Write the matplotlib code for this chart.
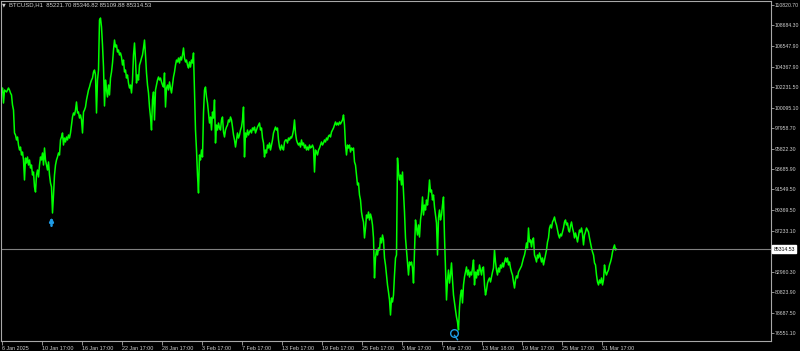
import matplotlib.pyplot as plt
import matplotlib.transforms as mtransforms
import numpy as np

plt.rcParams['font.family'] = ['Liberation Sans', 'DejaVu Sans']

# BTCUSD H1 closes, one value per bar
close = [
    101730, 102150, 100580, 101940, 101840, 101730, 101940, 102150, 101940, 101630,
    101420, 100370, 99850, 97450, 97240, 96720, 97030, 96190, 95670, 95980,
    95150, 95460, 94630, 92540, 94830, 94310, 94940, 94100, 94630, 93790,
    94100, 93060, 93370, 91810, 91280, 93060, 93580, 92850, 94100, 94940,
    94630, 95360, 94100, 95880, 94630, 94100, 93580, 94420, 93060, 92220,
    91810, 89090, 90970, 93060, 94100, 94630, 94940, 95360, 95150, 96720,
    97030, 97450, 96190, 96920, 96510, 97030, 96720, 97240, 96920, 97450,
    98280, 99120, 99540, 99330, 99850, 100690, 99540, 99640, 99010, 99330,
    98810, 97450, 99640, 99850, 100160, 100900, 101420, 101940, 102250, 102670,
    102980, 103190, 103820, 104030, 103510, 99540, 102980, 104030, 109250, 109460,
    108520, 106640, 104340, 100270, 102980, 101940, 101210, 102460, 101420, 103190,
    103820, 104760, 106120, 107160, 106430, 106640, 105910, 106120, 105600, 105810,
    105390, 104550, 105070, 103820, 104030, 103190, 103510, 102670, 102150, 102460,
    101630, 102980, 105600, 106850, 105070, 102670, 103510, 102980, 104550, 104870,
    105280, 105600, 106330, 107160, 105600, 103720, 102460, 101630, 100160, 99120,
    97760, 100900, 101730, 98810, 101940, 102460, 102980, 103300, 102980, 103190,
    102780, 102460, 102250, 103720, 100160, 102150, 102460, 101940, 102780, 102150,
    101630, 102460, 103300, 103820, 104550, 105070, 104870, 105280, 104760, 105390,
    105070, 105600, 106330, 105280, 104870, 105070, 104550, 104240, 104870, 104340,
    105070, 104760, 105810, 101940, 97760, 95670, 93060, 91180, 95150, 94630,
    95670, 94940, 99540, 101940, 102250, 101210, 100580, 99540, 98490, 99120,
    97760, 99640, 99010, 100900, 96400, 98280, 97760, 98490, 97970, 97760,
    98810, 99120, 97550, 97030, 97760, 98070, 98280, 98810, 98600, 99120,
    98810, 98070, 97240, 96720, 95980, 96720, 97450, 96920, 97240, 97760,
    98070, 98810, 100160, 94940, 97450, 97030, 97760, 97240, 97550, 97760,
    97450, 97970, 97760, 98070, 97450, 97760, 98070, 98280, 98490, 97760,
    97970, 96920, 96400, 94940, 95670, 95360, 96190, 95880, 96400, 95670,
    96190, 96720, 97450, 97760, 98070, 97760, 97970, 96720, 95980, 95670,
    96190, 95880, 95670, 96510, 96720, 96720, 96400, 96920, 96720, 97030,
    96920, 97240, 97760, 98810, 97450, 96720, 96400, 96190, 96400, 95980,
    96720, 96190, 96400, 95880, 96190, 95670, 95980, 95670, 96190, 95880,
    95980, 96190, 95880, 93370, 95670, 95460, 95150, 95670, 95880, 96190,
    96510, 96190, 96400, 96720, 96510, 96920, 96720, 97130, 97240, 97030,
    97550, 97760, 97970, 98280, 98600, 98280, 98490, 98280, 98600, 98390,
    98600, 98810, 99330, 98280, 96190, 95150, 96190, 95880, 96190, 95460,
    95880, 95670, 95880, 94420, 94100, 93060, 92020, 92220, 90970, 90450,
    89190, 88570, 88150, 86480, 87520, 88880, 88570, 89190, 88360, 88980,
    88570, 87840, 86480, 82300, 84390, 85220, 84700, 85430, 85220, 86480,
    85960, 86790, 86270, 84390, 83660, 82610, 81570, 80830, 80000, 78430,
    80210, 79790, 80520, 82610, 84390, 84700, 94830, 93370, 92540, 93060,
    92020, 93370, 91180, 89190, 86480, 85220, 83970, 82610, 83970, 83660,
    83970, 83340, 81770, 85220, 88360, 87520, 86790, 87840, 86580, 88360,
    89190, 90760, 88880, 89920, 89400, 90450, 89920, 90970, 92540, 91280,
    91490, 90450, 90970, 89720, 88880, 88040, 84700, 88570, 89400, 88360,
    88880, 89920, 90760, 86580, 83130, 80000, 82090, 83130, 81770, 82610,
    83870, 82090, 80520, 79690, 78950, 78220, 77700, 76870, 79270, 80520,
    81040, 79690, 81570, 82400, 82920, 83450, 82610, 83130, 82400, 82920,
    82610, 83340, 84180, 81570, 82920, 82300, 83130, 82610, 83660, 83130,
    82610, 83340, 83450, 81570, 80520, 81040, 81770, 82090, 82300, 81880,
    82400, 82920, 83340, 85220, 83970, 83130, 82610, 83340, 82920, 83660,
    83340, 83870, 83450, 83970, 84390, 83970, 84390, 83660, 83970, 83340,
    82920, 82610, 81880, 81250, 82090, 82510, 82300, 82920, 83130, 83340,
    83550, 83970, 84390, 84700, 85220, 85960, 85430, 87520, 86060, 86270,
    85540, 86270, 86480, 84700, 84390, 83970, 84700, 84390, 84910, 84490,
    83970, 84390, 83660, 84180, 84700, 85220, 86060, 86480, 87520, 87840,
    87520, 88150, 88360, 88670, 88150, 87840, 87310, 86790, 86480, 86890,
    86690, 87100, 87520, 88150, 88360, 87840, 88040, 87310, 87100, 87730,
    88150, 87520, 87100, 86480, 87000, 86580, 86060, 86690, 87310, 87100,
    87520, 86890, 85750, 86790, 87100, 87520, 87310, 87100, 86480, 85960,
    85430, 85010, 84700, 83870, 83660, 82610, 81880, 81570, 82090, 81770,
    82300, 81570, 82090, 83660, 82920, 82610, 82920, 83130, 83660, 83970,
    84390, 85010, 85430, 85750, 85220, 85314.53,
]
bars = np.arange(len(close))

# header values (open high low close of last bar)
header = 'BTCUSD,H1  85221.70 85346.82 85109.88 85314.53'
last_price = 85314.53

# signal markers
buy_bar = [50]
buy_price = [88200]
exit_bar = [452]
exit_price = [76550]

# price scale labels
y_ticks = [110820.70, 108684.30, 106547.90, 104367.90, 102231.50, 100095.10,
           97958.70, 95822.30, 93685.90, 91549.50, 89369.50, 87233.10,
           82960.30, 80823.90, 78687.50, 76551.10]

# time scale labels (every 40 bars)
x_tick_bars = [0, 40, 80, 120, 160, 200, 240, 280, 320, 360, 400, 440, 480, 520, 560, 600]
x_tick_labels = ['6 Jan 2025', '10 Jan 17:00', '16 Jan 17:00', '22 Jan 17:00',
                 '28 Jan 17:00', '3 Feb 17:00', '7 Feb 17:00', '13 Feb 17:00',
                 '19 Feb 17:00', '25 Feb 17:00', '3 Mar 17:00', '7 Mar 17:00',
                 '13 Mar 18:00', '19 Mar 17:00', '25 Mar 17:00', '31 Mar 17:00']

fg = '#a8a8a8'
txt = '#d0d0d0'
blue = '#1e9be6'

fig = plt.figure(figsize=(8, 3.51), dpi=100, facecolor='black')
ax = fig.add_axes([1 / 800, 10 / 351, 769.5 / 800, 340 / 351])
ax.set_facecolor('black')

# price line
ax.plot(bars, close, color='#00ff00', lw=1.1)

# bid line
ax.axhline(last_price, color='#808080', lw=0.8)

# buy arrow and exit circle
for b, p in zip(buy_bar, buy_price):
    ax.annotate('', xy=(b, p + 450), xytext=(b, p - 450),
                arrowprops=dict(arrowstyle='-|>', color=blue, lw=1.8,
                                mutation_scale=5, shrinkA=0, shrinkB=0))
ax.plot(exit_bar, exit_price, 'o', ms=5.5, mfc='none', mec=blue, mew=1.0, ls='none')
for b, p in zip(exit_bar, exit_price):
    ax.plot([b + 1, b + 4], [p - 250, p - 700], color=blue, lw=1.0)

ax.set_xlim(-0.5, 769)
ax.set_ylim(75715, 111239)

# axes frame
for s in ax.spines.values():
    s.set_color(fg)
    s.set_linewidth(0.8)

ax.yaxis.tick_right()
ax.set_yticks(y_ticks)
ax.set_yticklabels(['%.2f' % v for v in y_ticks])
ax.tick_params(axis='y', direction='out', length=2, width=0.6, pad=1.2,
               labelsize=3.7, colors=fg, labelcolor=txt)

ax.set_xticks(x_tick_bars)
ax.set_xticklabels(x_tick_labels)
for lab in ax.get_xticklabels():
    lab.set_horizontalalignment('left')
ax.tick_params(axis='x', direction='out', length=3, width=0.6, pad=0.5,
               labelsize=3.9, colors=fg, labelcolor=txt)

# current price tag on the scale
tr = mtransforms.blended_transform_factory(ax.transAxes, ax.transData)
ax.text(1.004, last_price, '%.2f' % last_price, transform=tr, fontsize=3.7,
        color='black', va='center', ha='left',
        bbox=dict(boxstyle='square,pad=0.25', fc='white', ec='white'))

# header
fig.text(2 / 800, 1 - 5 / 351, '\u25bc', fontsize=3.5, color=txt, va='center',
         family='DejaVu Sans')
fig.text(9 / 800, 1 - 5 / 351, header, fontsize=4.3, color=txt, va='center')

fig.savefig('out.png', dpi=100, facecolor='black')
